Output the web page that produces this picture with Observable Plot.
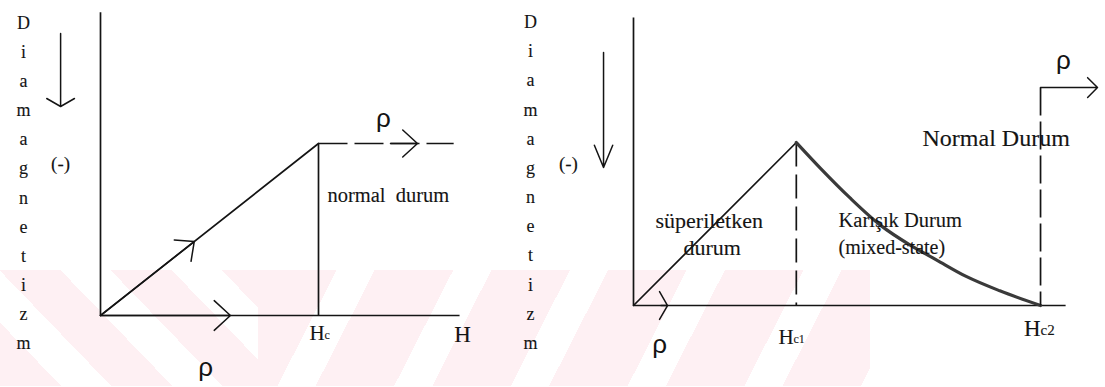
<!DOCTYPE html>
<html><head><meta charset="utf-8">
<script src="https://cdn.jsdelivr.net/npm/d3@7"></script>
<script src="https://cdn.jsdelivr.net/npm/@observablehq/plot@0.6"></script>
<style>
html,body{margin:0;padding:0;background:#fff;}
#fig{position:relative;width:1105px;height:387px;overflow:hidden;background:#fff;}
.wm{position:absolute;top:270px;height:116px;}
#wmL{left:0;width:258px;background:repeating-linear-gradient(46deg,#fef0f3 0 44px,#ffffff 44px 80px);}
#wmR{left:258px;width:612px;background:repeating-linear-gradient(117deg,#fef0f3 0 70px,#ffffff 70px 104px);}
#left,#right{position:absolute;top:0;}
#left{left:0;} #right{left:490px;}
</style></head><body>
<div id="fig">
  <div class="wm" id="wmL"></div>
  <div class="wm" id="wmR"></div>
  <div id="left"></div>
  <div id="right"></div>
</div>
<script>
// ---------- DATA ----------
// Panel 1 (Tip-I): diamagnetizm (-M) against field H, H in units of Hc
const p1RiseH = [0, 1];
const p1RiseM = [0, 1];
const p1Hc = 1;
const p1NormalEndH = 1.62;     // dashed normal-state line end
const p1AxisEndH = 1.647;
const p1AxisTopM = 1.763;

// Panel 2 (Tip-II): H in units of Hc1
const p2RiseH = [0, 1];
const p2RiseM = [0, 1];
const p2MixedH = [1.0, 1.15, 1.33, 1.52, 1.70, 1.86, 2.04, 2.25, 2.50];
const p2MixedM = [1.0, 0.84, 0.66, 0.49, 0.37, 0.28, 0.18, 0.09, 0.0];
const p2Hc1 = 1;
const p2Hc2 = 2.5;
const p2AxisEndH = 2.654;
const p2AxisTopM = 1.767;
const p2NormalTopM = 1.337;
const p2NormalArrowEndH = 2.85;

// Texts
const yTitleLetters = ["D","i","a","m","a","g","n","e","t","i","z","m"];
const signLabel = "(-)";
const rhoLabel = "ρ";
const fieldMain = ["H", "H", "H"];
const fieldSubs = ["c", "c1", "c2"];
const axisLabel = "H";
const stateLabels1 = ["normal  durum"];
const stateLabels2 = ["süperiletken", "durum", "Karışık Durum", "(mixed-state)", "Normal Durum"];

// ---------- HELPERS ----------
const ink = "#141414";
const serif = "Liberation Serif";
const sans = "Liberation Sans";
const pts = (X, Y) => X.map((x, i) => ({x, y: Y[i]}));
const one = [0];
const baseStyle = {fontFamily: serif, background: "transparent", overflow: "visible", color: ink};
const txt = {text: d => d, fill: ink, stroke: ink, strokeWidth: 0.12};

// ---------- PANEL 1 ----------
const left = Plot.plot({
  width: 490, height: 387,
  marginLeft: 100, marginRight: 30.3, marginTop: 5.4, marginBottom: 72,
  x: {domain: [0, 1.65], axis: null},
  y: {domain: [0, 1.8], axis: null},
  style: baseStyle,
  marks: [
    Plot.link(one, {x1: 0, x2: 0, y1: 0, y2: p1AxisTopM, stroke: ink, strokeWidth: 1.7}),
    Plot.link(one, {x1: 0, x2: p1AxisEndH, y1: 0, y2: 0, stroke: ink, strokeWidth: 1.7}),
    Plot.line(pts(p1RiseH, p1RiseM), {x: "x", y: "y", stroke: ink, strokeWidth: 1.7}),
    Plot.link(one, {x1: p1Hc, x2: p1Hc, y1: 0, y2: 1, stroke: ink, strokeWidth: 1.7}),
    Plot.link(one, {x1: p1Hc, x2: p1NormalEndH, y1: 1, y2: 1, stroke: ink, strokeWidth: 1.7, strokeDasharray: "29,7"}),
    // chevrons
    Plot.arrow(one, {x1: 0, y1: 0, x2: 0.43, y2: 0.43, stroke: ink, strokeWidth: 1.5, headLength: 20, headAngle: 85}),
    Plot.arrow(one, {x1: 0, y1: 0, x2: 0.596, y2: 0, stroke: ink, strokeWidth: 1.5, headLength: 22, headAngle: 85}),
    Plot.arrow(one, {x1: 1, y1: 1, x2: 1.454, y2: 1, stroke: ink, strokeWidth: 1.5, headLength: 20, headAngle: 85, insetStart: 72}),
    // y label and down arrow
    Plot.text([yTitleLetters.join("\n")], {...txt, x: -0.353, y: 0.79, fontSize: 18, lineHeight: 1.62, lineAnchor: "middle"}),
    Plot.arrow(one, {x1: -0.183, y1: 1.64, x2: -0.183, y2: 1.215, stroke: ink, strokeWidth: 1.5, headLength: 16, headAngle: 120}),
    Plot.text([signLabel], {...txt, x: -0.183, y: 0.884, fontSize: 19}),
    // labels
    Plot.text([rhoLabel], {...txt, strokeWidth: 0, x: 1.298, y: 1.145, fontFamily: sans, fontSize: 26}),
    Plot.text([rhoLabel], {...txt, strokeWidth: 0, x: 0.482, y: -0.302, fontFamily: sans, fontSize: 26}),
    Plot.text(stateLabels1, {...txt, x: 1.041, y: 0.698, textAnchor: "start", fontSize: 20.5, letterSpacing: "0.3px"}),
    Plot.text([fieldMain[0]], {...txt, x: 1.028, y: -0.105, textAnchor: "end", fontSize: 21}),
    Plot.text([fieldSubs[0]], {...txt, x: 1.028, y: -0.105, textAnchor: "start", fontSize: 12, dy: 2}),
    Plot.text([axisLabel], {...txt, x: 1.661, y: -0.110, fontSize: 23})
  ]
});
document.getElementById("left").append(left);

// ---------- PANEL 2 ----------
const right = Plot.plot({
  width: 615, height: 387,
  marginLeft: 143, marginRight: 32.4, marginTop: 11.6, marginBottom: 82,
  x: {domain: [0, 2.7], axis: null},
  y: {domain: [0, 1.8], axis: null},
  style: baseStyle,
  marks: [
    Plot.link(one, {x1: 0, x2: 0, y1: 0, y2: p2AxisTopM, stroke: ink, strokeWidth: 1.7}),
    Plot.link(one, {x1: 0, x2: p2AxisEndH, y1: 0, y2: 0, stroke: ink, strokeWidth: 1.7}),
    Plot.line(pts(p2RiseH, p2RiseM), {x: "x", y: "y", stroke: ink, strokeWidth: 1.7}),
    Plot.link(one, {x1: p2Hc1, x2: p2Hc1, y1: 1, y2: 0, stroke: ink, strokeWidth: 1.7, strokeDasharray: "24,8"}),
    Plot.line(pts(p2MixedH, p2MixedM), {x: "x", y: "y", stroke: "#3a3a3a", strokeWidth: 3.2, curve: "monotone-x"}),
    Plot.link(one, {x1: p2Hc2, x2: p2Hc2, y1: p2NormalTopM, y2: 0, stroke: ink, strokeWidth: 1.7, strokeDasharray: "28,6"}),
    Plot.arrow(one, {x1: p2Hc2, y1: p2NormalTopM, x2: p2NormalArrowEndH, y2: p2NormalTopM, stroke: ink, strokeWidth: 1.5, headLength: 14, headAngle: 90}),
    Plot.arrow(one, {x1: -0.2, y1: 0, x2: 0.209, y2: 0, stroke: ink, strokeWidth: 1.5, headLength: 16, headAngle: 120, insetStart: 60}),
    // y label and down arrow
    Plot.text([yTitleLetters.join("\n")], {...txt, x: -0.633, y: 0.775, fontSize: 18, lineHeight: 1.62, lineAnchor: "middle"}),
    Plot.arrow(one, {x1: -0.184, y1: 1.552, x2: -0.184, y2: 0.847, stroke: ink, strokeWidth: 1.5, headLength: 24, headAngle: 45}),
    Plot.text([signLabel], {...txt, x: -0.40, y: 0.871, fontSize: 19}),
    // labels
    Plot.text([rhoLabel], {...txt, strokeWidth: 0, x: 2.641, y: 1.503, fontFamily: sans, fontSize: 26}),
    Plot.text([rhoLabel], {...txt, strokeWidth: 0, x: 0.160, y: -0.239, fontFamily: sans, fontSize: 26}),
    Plot.text([stateLabels2[0]], {...txt, x: 0.135, y: 0.521, textAnchor: "start", fontSize: 22}),
    Plot.text([stateLabels2[1]], {...txt, x: 0.307, y: 0.356, textAnchor: "start", fontSize: 22}),
    Plot.text([stateLabels2[2]], {...txt, x: 1.259, y: 0.521, textAnchor: "start", fontSize: 20.5}),
    Plot.text([stateLabels2[3]], {...txt, x: 1.259, y: 0.356, textAnchor: "start", fontSize: 20}),
    Plot.text([stateLabels2[4]], {...txt, x: 1.775, y: 1.025, textAnchor: "start", fontSize: 24}),
    Plot.text([fieldMain[1]], {...txt, x: 0.983, y: -0.196, textAnchor: "end", fontSize: 21}),
    Plot.text([fieldSubs[1]], {...txt, x: 0.983, y: -0.196, textAnchor: "start", fontSize: 12, dy: 2}),
    Plot.text([fieldMain[2]], {...txt, x: p2Hc2, y: -0.141, textAnchor: "end", fontSize: 23}),
    Plot.text([fieldSubs[2]], {...txt, x: p2Hc2, y: -0.141, textAnchor: "start", fontSize: 15, dy: 2})
  ]
});
document.getElementById("right").append(right);
</script>
</body></html>
